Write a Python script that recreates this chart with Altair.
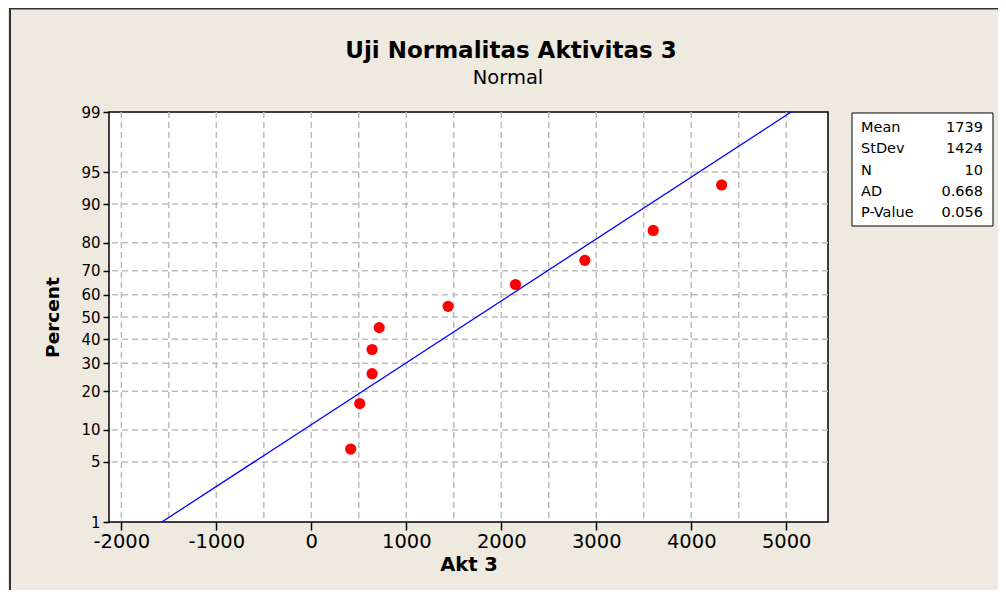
import altair as alt
import pandas as pd
from statistics import NormalDist

# ---- data ----
akt3 = [415, 510, 640, 640, 715, 1440, 2150, 2880, 3600, 4320]
percent = [6.7, 16.3, 26.0, 35.6, 45.2, 54.8, 64.4, 74.0, 83.7, 93.3]
fit_x = [-1574, 5052]
fit_pct = [1, 99]
x_ticks = [-2000, -1000, 0, 1000, 2000, 3000, 4000, 5000]
x_grid = [-2000, -1500, -1000, -500, 0, 500, 1000, 1500, 2000, 2500, 3000, 3500, 4000, 4500, 5000]
y_ticks = [1, 5, 10, 20, 30, 40, 50, 60, 70, 80, 90, 95, 99]
y_grid = [5, 10, 20, 30, 40, 50, 60, 70, 80, 90, 95]
x_domain = [-2130, 5440]
stat_names = ["Mean", "StDev", "N", "AD", "P-Value"]
stat_values = ["1739", "1424", "10", "0.668", "0.056"]
title_text = "Uji Normalitas Aktivitas 3"
subtitle_text = "Normal"

nd = NormalDist()
def z(p):
    return nd.inv_cdf(p / 100.0)

F = "DejaVu Sans"
BG = "#EEEAE0"
GRID = "#bdbdbd"

W, H = 719, 410
PAD_L, PAD_T = 101, 104
TOTAL_W, TOTAL_H = 990, 582

pts = pd.DataFrame({"x": akt3, "y": [z(p) for p in percent]})
fit = pd.DataFrame({"x": fit_x, "y": [z(p) for p in fit_pct]})
gx = pd.DataFrame({"x": x_grid})
gy = pd.DataFrame({"y": [z(p) for p in y_grid]})
one = pd.DataFrame({"a": [0]})

xs = alt.Scale(domain=x_domain, nice=False, zero=False)
ys = alt.Scale(domain=[z(1), z(99)], nice=False, zero=False)

x_axis = alt.Axis(values=x_ticks, title="Akt 3", grid=False, domain=False,
                  tickSize=8, tickWidth=1.5, tickColor="black",
                  labelExpr="datum.value < 0 ? '-' + abs(datum.value) : '' + datum.value",
                  labelFontSize=19.5, labelFont=F, labelColor="black", labelPadding=2,
                  titleFontSize=19.5, titleFont=F, titleFontWeight="bold",
                  titleColor="black", titlePadding=5)
y_axis = alt.Axis(values=[z(p) for p in y_ticks], title="Percent", grid=False,
                  domain=False, tickSize=6, tickWidth=1.5, tickColor="black",
                  labelExpr="round(cumulativeNormal(datum.value) * 100)",
                  labelFontSize=15, labelFont=F, labelColor="black", labelPadding=3,
                  titleFontSize=18.5, titleFont=F, titleFontWeight="bold",
                  titleColor="black", titlePadding=18)

X = alt.X("x:Q", scale=xs, axis=x_axis)
Y = alt.Y("y:Q", scale=ys, axis=y_axis)

outer = alt.Chart(one).mark_rect(fillOpacity=0, stroke="#333333", strokeWidth=2).encode(
    x=alt.value(-PAD_L + 2), x2=alt.value(TOTAL_W + 50),
    y=alt.value(-PAD_T + 0.5), y2=alt.value(TOTAL_H + 50))

vgrid = alt.Chart(gx).mark_rule(color=GRID, strokeWidth=1.5, strokeDash=[6, 4]).encode(x=X)
hgrid = alt.Chart(gy).mark_rule(color=GRID, strokeWidth=1.5, strokeDash=[6, 4]).encode(y=Y)

line = alt.Chart(fit).mark_line(color="#0000ff", strokeWidth=1.3).encode(x=X, y=Y)
points = alt.Chart(pts).mark_point(filled=True, color="#ff0000", opacity=1, size=125).encode(x=X, y=Y)

box = alt.Chart(one).mark_rect(fill="white", stroke="black", strokeWidth=1).encode(
    x=alt.value(743), x2=alt.value(884), y=alt.value(1), y2=alt.value(114))

stat_layers = []
for i, (nm, vl) in enumerate(zip(stat_names, stat_values)):
    yy = 16 + i * 21.3
    stat_layers.append(alt.Chart(one).mark_text(align="left", baseline="middle", fontSize=14.5,
                                                font=F, color="black").encode(
        x=alt.value(752), y=alt.value(yy), text=alt.value(nm)))
    stat_layers.append(alt.Chart(one).mark_text(align="right", baseline="middle", fontSize=14.5,
                                                font=F, color="black").encode(
        x=alt.value(874), y=alt.value(yy), text=alt.value(vl)))

title = alt.Chart(one).mark_text(align="center", baseline="alphabetic", fontSize=23,
                                 fontWeight="bold", font=F, color="black").encode(
    x=alt.value(402), y=alt.value(-54), text=alt.value(title_text))
subtitle = alt.Chart(one).mark_text(align="center", baseline="alphabetic", fontSize=19.5,
                                    font=F, color="black").encode(
    x=alt.value(399), y=alt.value(-28.5), text=alt.value(subtitle_text))

chart = alt.layer(outer, vgrid, hgrid, line, points, box, title, subtitle, *stat_layers).properties(
    width=W, height=H,
    autosize=alt.AutoSizeParams(type="none"),
    padding={"left": PAD_L, "top": PAD_T, "right": TOTAL_W - PAD_L - W,
             "bottom": TOTAL_H - PAD_T - H},
    background=BG,
).configure_view(stroke="black", strokeWidth=1.5, fill="white")

chart.save("out.html", embed_options={"renderer": "svg", "actions": False})
